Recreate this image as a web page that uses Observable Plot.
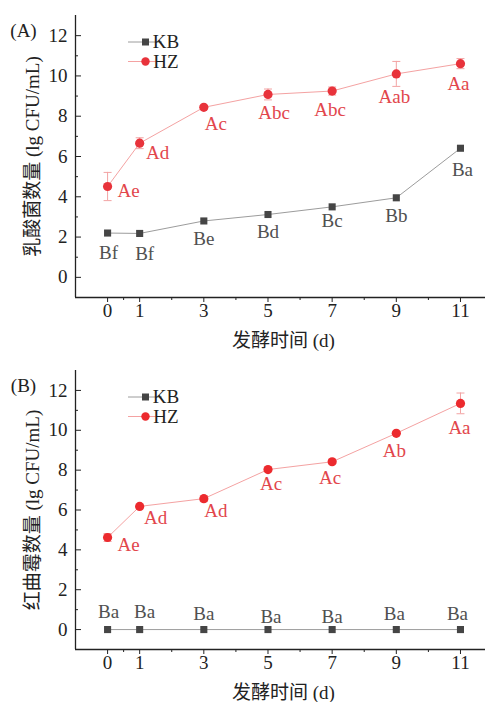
<!DOCTYPE html>
<html>
<head>
<meta charset="utf-8">
<script src="https://cdn.jsdelivr.net/npm/d3@7"></script>
<script src="https://cdn.jsdelivr.net/npm/@observablehq/plot@0.6"></script>
<style>
  html, body { margin: 0; padding: 0; background: #fff; }
  #chart { position: relative; width: 485px; height: 702px; }
  #chart svg { display: block; }
</style>
</head>
<body>
<div id="chart"></div>
<script>
// ---- data ----
const days = [0, 1, 3, 5, 7, 9, 11];
const xTickLabels = ["0", "1", "3", "5", "7", "9", "11"];
const yTicks = [0, 2, 4, 6, 8, 10, 12];
const seriesNames = ["KB", "HZ"];

// Panel A: lactic acid bacteria
const labKB = [2.2, 2.18, 2.8, 3.12, 3.5, 3.95, 6.41];
const labHZ = [4.51, 6.66, 8.44, 9.08, 9.25, 10.1, 10.61];
const labHZerr = [0.7, 0.27, 0.08, 0.27, 0.2, 0.62, 0.25];
const labKBletters = ["Bf", "Bf", "Be", "Bd", "Bc", "Bb", "Ba"];
const labHZletters = ["Ae", "Ad", "Ac", "Abc", "Abc", "Aab", "Aa"];

// Panel B: Monascus
const monKB = [0, 0, 0, 0, 0, 0, 0];
const monHZ = [4.62, 6.18, 6.57, 8.03, 8.42, 9.85, 11.35];
const monHZerr = [0.2, 0.05, 0.15, 0.05, 0.1, 0.05, 0.52];
const monKBletters = ["Ba", "Ba", "Ba", "Ba", "Ba", "Ba", "Ba"];
const monHZletters = ["Ae", "Ad", "Ad", "Ac", "Ac", "Ab", "Aa"];

// ---- label placement (styling, px) ----
const placeA = {
  kbDx: [1, 5, 0, 0, 0, 0, 2], kbDy: [20, 20, 18, 17, 14, 18, 22],
  hzDx: [21, 18, 12, 6, -2, -2, -2], hzDy: [4, 10, 17, 18, 19, 23, 20]
};
const placeB = {
  kbDx: [1, 5, 0, 3, 0, -2, -3], kbDy: [-18, -18, -16, -13, -13, -16, -16],
  hzDx: [21, 16, 12, 3, -2, -2, -1], hzDy: [7, 11, 12, 14, 16, 18, 25]
};

const FONT = '"Liberation Serif", "Times New Roman", "Noto Sans CJK SC", serif';
const KB_MARK = "#454545", KB_LINE = "#9c9c9c", KB_TEXT = "#505050";
const HZ_MARK = "#e8333b", HZ_LINE = "#f4a2a2", HZ_TEXT = "#e2464c", HZ_ERR = "#f2a3a3";

const capSymbol = { draw(ctx) { ctx.moveTo(-4, 0); ctx.lineTo(4, 0); } };

function panel({kb, hz, hzErr, kbLetters, hzLetters, place, yTitle, tag, marginTop, marginBottom, hzColor}) {
  const kbRows = days.map((d, i) => ({day: d, v: kb[i], t: kbLetters[i], i}));
  const hzRows = days.map((d, i) => ({day: d, v: hz[i], e: hzErr[i], t: hzLetters[i], i}));
  const marks = [
    // axis lines
    Plot.ruleX([-1], {stroke: "#222", strokeWidth: 1.3}),
    Plot.ruleY([-1], {stroke: "#222", strokeWidth: 1.3}),
    // x axis
    Plot.axisX({ticks: days, tickFormat: (d, i) => xTickLabels[i], tickSize: 5, tickPadding: 1,
      fontSize: 19, label: null, fill: "#222", stroke: "#222"}),
    Plot.axisX({ticks: [0.5, 2, 4, 6, 8, 10], tickSize: 3, text: null, label: null, stroke: "#222"}),
    // y axis (inward ticks)
    Plot.axisY({ticks: yTicks, tickSize: 6, dx: 6, text: null, label: null, stroke: "#222"}),
    Plot.axisY({ticks: [-1, 1, 3, 5, 7, 9, 11], tickSize: 3, dx: 3, text: null, label: null, stroke: "#222"}),
    Plot.axisY({ticks: yTicks, tickSize: 0, tickPadding: 8, fontSize: 19, label: null, fill: "#222"}),
    // titles
    Plot.text([yTitle], {text: d => d, frameAnchor: "left", textAnchor: "middle", lineAnchor: "middle",
      dx: -43, rotate: -90, fontSize: 19, fill: "#222"}),
    Plot.text(["发酵时间 (d)"], {text: d => d, frameAnchor: "bottom", textAnchor: "middle", lineAnchor: "middle",
      dx: 3, dy: 43, fontSize: 19, fill: "#222"}),
    Plot.text([tag], {text: d => d, frameAnchor: "top-left", textAnchor: "middle", lineAnchor: "middle",
      dx: -52, dy: 15, fontSize: 19, fill: "#222"}),
    // KB series
    Plot.line(kbRows, {x: "day", y: "v", stroke: KB_LINE, strokeWidth: 1}),
    Plot.dot(kbRows, {x: "day", y: "v", symbol: "square", r: 4, fill: KB_MARK}),
    // HZ series
    Plot.line(hzRows, {x: "day", y: "v", stroke: HZ_LINE, strokeWidth: 1}),
    Plot.ruleX(hzRows, {x: "day", y1: d => d.v - d.e, y2: d => d.v + d.e, stroke: HZ_ERR, strokeWidth: 1}),
    Plot.dot(hzRows, {x: "day", y: d => d.v + d.e, symbol: capSymbol, stroke: HZ_ERR, strokeWidth: 1}),
    Plot.dot(hzRows, {x: "day", y: d => d.v - d.e, symbol: capSymbol, stroke: HZ_ERR, strokeWidth: 1}),
    Plot.dot(hzRows, {x: "day", y: "v", r: 4.6, fill: hzColor})
  ];
  kbRows.forEach((r, i) => marks.push(Plot.text([r], {x: "day", y: "v", text: "t",
    dx: place.kbDx[i], dy: place.kbDy[i], fontSize: 19, fill: KB_TEXT})));
  hzRows.forEach((r, i) => marks.push(Plot.text([r], {x: "day", y: "v", text: "t",
    dx: place.hzDx[i], dy: place.hzDy[i], fontSize: 19, fill: HZ_TEXT})));

  const svg = Plot.plot({
    width: 485, height: 351,
    marginLeft: 75, marginRight: 0, marginTop, marginBottom,
    style: {fontFamily: FONT, fontSize: "19px", background: "#fff", overflow: "visible"},
    x: {domain: [-1, 11.78]},
    y: {domain: [-1, 13]},
    marks
  });

  // legend
  const g = d3.select(svg).append("g").attr("font-family", FONT).attr("font-size", 19);
  const legendY0 = marginTop + 27;
  const items = [
    {name: seriesNames[0], line: KB_LINE, mark: KB_MARK, sym: "square"},
    {name: seriesNames[1], line: HZ_LINE, mark: hzColor, sym: "circle"}
  ];
  items.forEach((it, k) => {
    const y = legendY0 + k * 19.5;
    g.append("line").attr("x1", 128).attr("x2", 162).attr("y1", y).attr("y2", y)
      .attr("stroke", it.line).attr("stroke-width", 1);
    if (it.sym === "square") {
      g.append("rect").attr("x", 142).attr("y", y - 3.5).attr("width", 7).attr("height", 7).attr("fill", it.mark);
    } else {
      g.append("circle").attr("cx", 145.5).attr("cy", y).attr("r", 4.2).attr("fill", it.mark);
    }
    g.append("text").attr("x", 166).attr("y", y).attr("dy", "0.34em").attr("fill", "#222").text(it.name);
  });
  return svg;
}

const chart = document.getElementById("chart");
chart.append(panel({
  kb: labKB, hz: labHZ, hzErr: labHZerr, kbLetters: labKBletters, hzLetters: labHZletters,
  place: placeA, yTitle: "乳酸菌数量 (lg CFU/mL)", tag: "(A)", marginTop: 15, marginBottom: 54, hzColor: HZ_MARK
}));
chart.append(panel({
  kb: monKB, hz: monHZ, hzErr: monHZerr, kbLetters: monKBletters, hzLetters: monHZletters,
  place: placeB, yTitle: "红曲霉数量 (lg CFU/mL)", tag: "(B)", marginTop: 19, marginBottom: 53, hzColor: "#ec2a2e"
}));
</script>
</body>
</html>
